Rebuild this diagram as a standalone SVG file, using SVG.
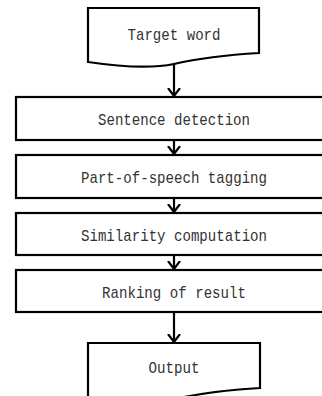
<svg xmlns="http://www.w3.org/2000/svg" width="322" height="396" viewBox="0 0 322 396">
<style>
.s{fill:#fff;stroke:#000;stroke-width:2.2}
.t{font-family:"Liberation Mono",monospace;font-size:17px;fill:#333;text-anchor:middle}
.c{fill:none;stroke:#000;stroke-width:2.2}
</style>
<defs>
<marker id="a" markerWidth="10" markerHeight="14" refX="8" refY="7" orient="auto" markerUnits="userSpaceOnUse" viewBox="0 0 10 14">
<path d="M0,1 L8,7 L0,13" fill="none" stroke="#000" stroke-width="2.2"/>
</marker>
</defs>
<rect width="322" height="396" fill="#fff"/>
<g id="connectors">
<line class="c" x1="174" y1="64" x2="174" y2="96" marker-end="url(#a)"/>
<line class="c" x1="174" y1="140" x2="174" y2="154" marker-end="url(#a)"/>
<line class="c" x1="174" y1="198" x2="174" y2="212" marker-end="url(#a)"/>
<line class="c" x1="174" y1="255" x2="174" y2="269" marker-end="url(#a)"/>
<line class="c" x1="174" y1="312" x2="174" y2="342" marker-end="url(#a)"/>
</g>
<g id="target">
<path class="s" d="M88,8 H259 V53 C225,55 200,58 174,64 C150,69 115,66 88,62 Z"/>
<text class="t" x="174" y="40" textLength="93" lengthAdjust="spacingAndGlyphs">Target word</text>
</g>
<g id="sentence">
<rect class="s" x="16" y="97" width="320" height="43"/>
<text class="t" x="174" y="125" textLength="152" lengthAdjust="spacingAndGlyphs">Sentence detection</text>
</g>
<g id="pos">
<rect class="s" x="16" y="155" width="320" height="43"/>
<text class="t" x="174" y="183" textLength="186" lengthAdjust="spacingAndGlyphs">Part-of-speech tagging</text>
</g>
<g id="similarity">
<rect class="s" x="16" y="213" width="320" height="42"/>
<text class="t" x="174" y="240.5" textLength="186" lengthAdjust="spacingAndGlyphs">Similarity computation</text>
</g>
<g id="ranking">
<rect class="s" x="16" y="270" width="320" height="42"/>
<text class="t" x="174" y="297.5" textLength="144" lengthAdjust="spacingAndGlyphs">Ranking of result</text>
</g>
<g id="output">
<path class="s" d="M88,343 H260 V388 C226,390 201,393 175,399 C151,404 116,401 88,397 Z"/>
<text class="t" x="174" y="373" textLength="51" lengthAdjust="spacingAndGlyphs">Output</text>
</g>
</svg>
